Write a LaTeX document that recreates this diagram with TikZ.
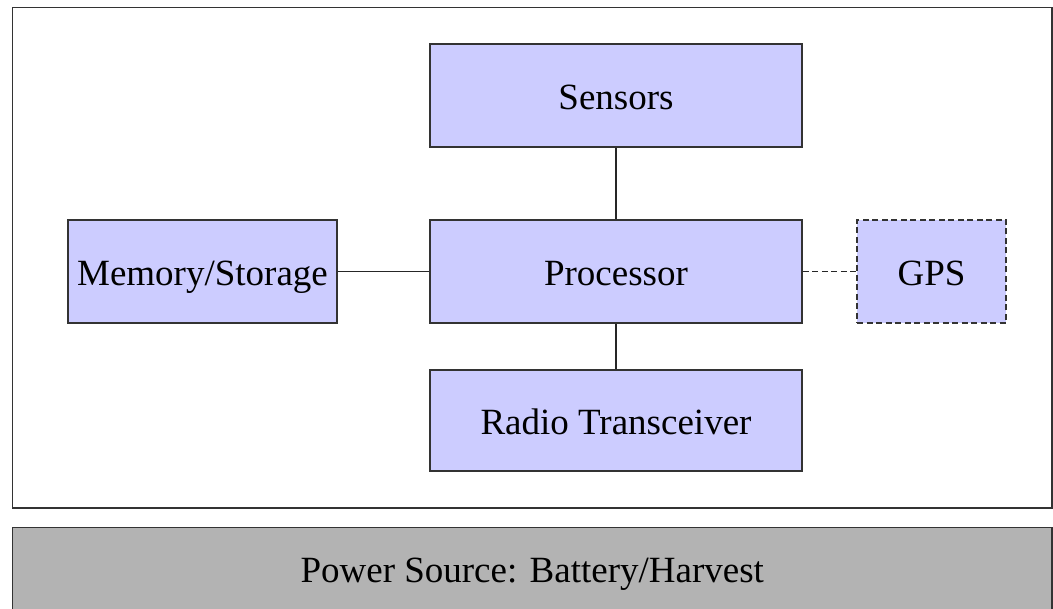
\documentclass[tikz,border=0pt]{standalone}
\usepackage{fontspec}
\setmainfont{Liberation Serif}
\definecolor{boxblue}{HTML}{CCCCFF}
\definecolor{powergray}{HTML}{B3B3B3}
\definecolor{edgegray}{HTML}{333333}
\begin{document}
\begin{tikzpicture}[x=1pt,y=-1pt,
  unit/.style={draw=edgegray,line width=1.5pt,fill=boxblue,rectangle,inner sep=0pt,
    minimum height=103pt,text height=28pt,text depth=0pt,font=\fontsize{37}{40}\selectfont},
  wire/.style={draw=black!85,line width=1.5pt},
  optwire/.style={wire,dash pattern=on 6pt off 3.5pt},
  optunit/.style={unit,dash pattern=on 6pt off 3.5pt}]
\useasboundingbox (0,0) rectangle (1053,609);
\clip (0,0) rectangle (1053,609);
\node[draw=edgegray,line width=1.5pt,fill=white,rectangle,inner sep=0pt,
  minimum width=1039.5pt,minimum height=500.5pt] (frame) at (532.25,257.75) {};
\node[draw=edgegray,line width=1.5pt,fill=powergray,rectangle,inner sep=0pt,
  minimum width=1039.5pt,minimum height=86pt,text height=24pt,text depth=0pt,
  font=\fontsize{37}{40}\selectfont]
  (power) at (532.25,570.5) {Power Source: Battery/Harvest};
\node[unit,minimum width=372pt] (sensors) at (616,95.5) {Sensors};
\node[unit,minimum width=372pt] (proc) at (616,271.5) {Processor};
\node[unit,minimum width=269pt] (mem) at (202.5,271.5) {Memory/Storage};
\node[optunit,minimum width=149pt] (gps) at (931.5,271.5) {GPS};
\node[unit,minimum width=372pt,minimum height=101pt] (radio) at (616,420.5) {Radio Transceiver};
\draw[wire] (sensors) -- (proc);
\draw[wire] (proc) -- (radio);
\draw[wire] (mem) -- (proc);
\draw[optwire] (proc) -- (gps);
\end{tikzpicture}
\end{document}
